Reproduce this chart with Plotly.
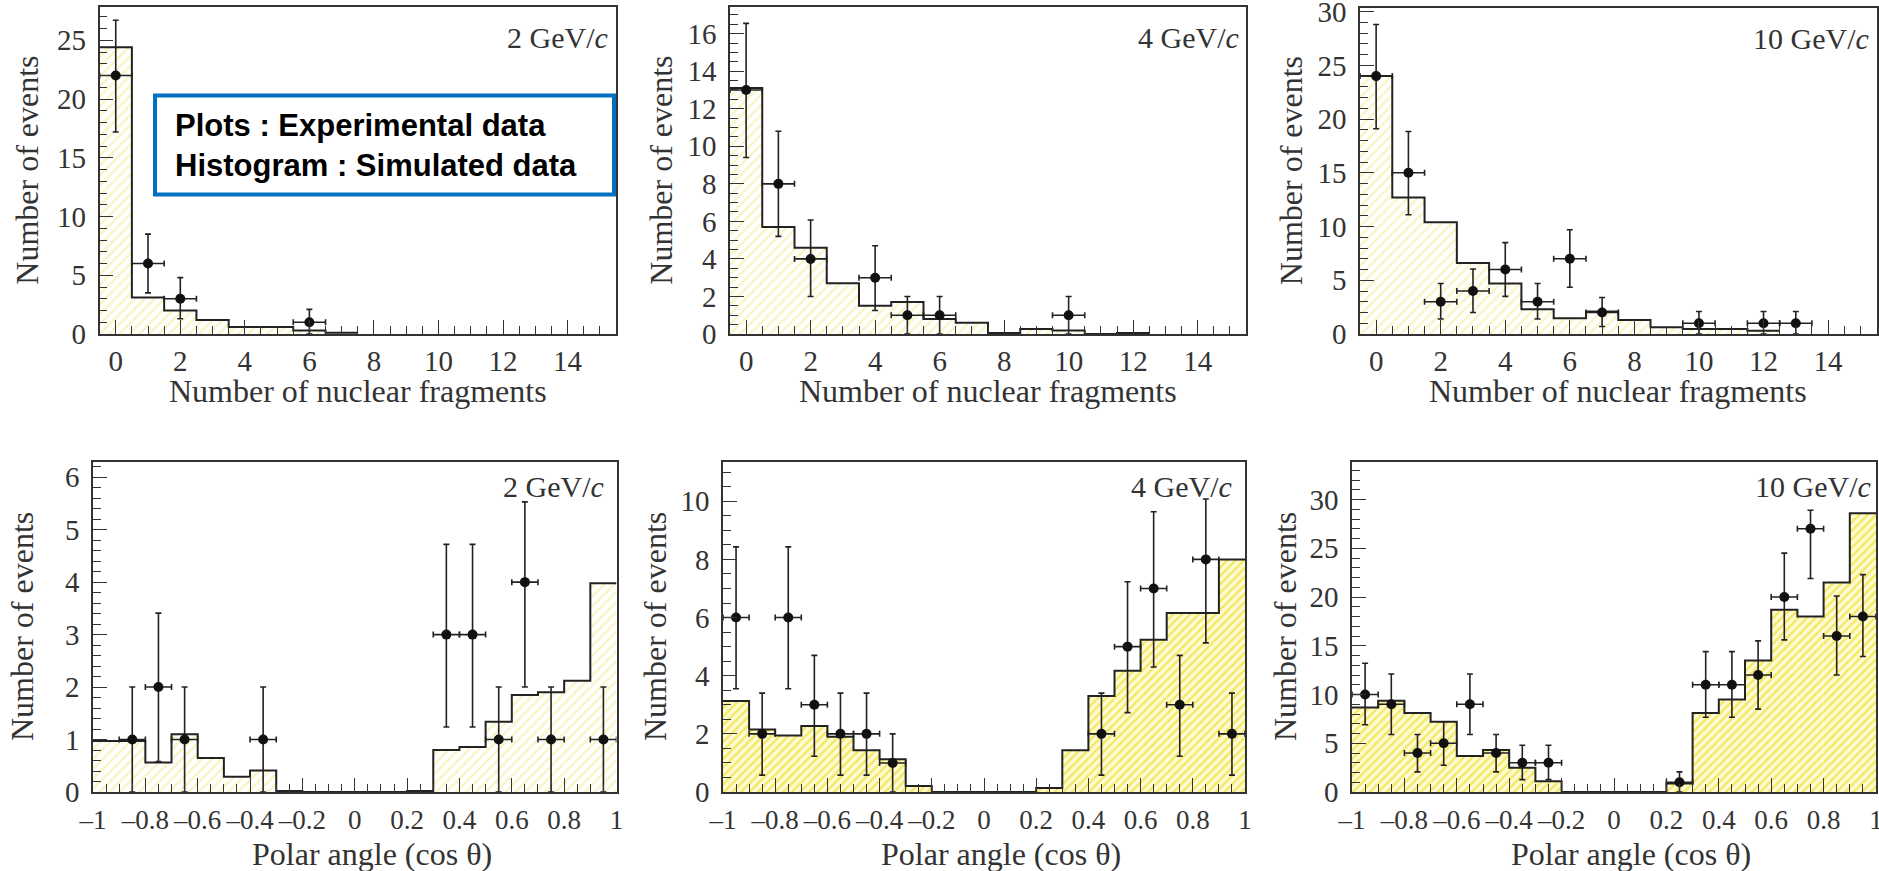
import plotly.graph_objects as go

# ---------------- data ----------------
frag_centers = [0, 1, 2, 3, 4, 5, 6, 7, 8, 9, 10, 11, 12]
ang_centers = [-0.95, -0.85, -0.75, -0.65, -0.55, -0.45, -0.35, -0.25, -0.15, -0.05,
               0.05, 0.15, 0.25, 0.35, 0.45, 0.55, 0.65, 0.75, 0.85, 0.95]
frag_bin_width = 1.0
ang_bin_width = 0.1

# simulated histograms (number of nuclear fragments)
sim_frag_2 = [24.4, 3.1, 2.0, 1.2, 0.6, 0.6, 0.3, 0.1]
sim_frag_4 = [13.1, 5.7, 4.6, 2.7, 1.5, 1.7, 0.8, 0.6, 0.05, 0.27, 0.18, 0.0, 0.05]
sim_frag_10 = [24.0, 12.7, 10.4, 6.6, 4.7, 2.3, 1.46, 2.1, 1.3, 0.62, 0.47, 0.47, 0.3]

# experimental points (number of nuclear fragments)
exp_frag_2_x = [0, 1, 2, 6]
exp_frag_2_y = [22, 6, 3, 1]
exp_frag_2_up = [4.7, 2.5, 1.8, 1.1]
exp_frag_2_dn = [4.8, 2.5, 1.7, 1.0]

exp_frag_4_x = [0, 1, 2, 4, 5, 6, 10]
exp_frag_4_y = [13, 8, 4, 3, 1, 1, 1]
exp_frag_4_up = [3.55, 2.8, 2.07, 1.7, 1.0, 1.0, 1.0]
exp_frag_4_dn = [3.6, 2.8, 2.0, 1.75, 1.0, 1.0, 1.0]

exp_frag_10_x = [0, 1, 2, 3, 4, 5, 6, 7, 10, 12, 13]
exp_frag_10_y = [24, 15, 3, 4, 6, 3, 7, 2, 1, 1, 1]
exp_frag_10_up = [4.8, 3.85, 1.7, 2.05, 2.5, 1.7, 2.7, 1.4, 1.1, 1.1, 1.1]
exp_frag_10_dn = [4.9, 3.9, 1.6, 2.0, 2.5, 1.6, 2.65, 1.3, 1.0, 1.0, 1.0]

# simulated histograms (polar angle)
sim_ang_2 = [0.97, 0.97, 0.56, 1.1, 0.65, 0.29, 0.41, 0.02, 0, 0, 0, 0, 0.02,
             0.8, 0.86, 1.34, 1.85, 1.9, 2.12, 3.98]
sim_ang_4 = [3.13, 2.15, 1.94, 2.27, 1.9, 1.44, 1.13, 0.21, 0, 0, 0, 0, 0.14,
             1.44, 3.3, 4.17, 5.24, 6.16, 6.16, 8.0]
sim_ang_10 = [8.66, 9.35, 8.1, 7.2, 3.7, 4.3, 2.5, 1.1, 0, 0, 0, 0, 0.86,
              8.1, 9.5, 13.5, 18.7, 18.0, 21.5, 28.6]

# experimental points (polar angle)
exp_ang_2_x = [-0.85, -0.75, -0.65, -0.35, 0.35, 0.45, 0.55, 0.65, 0.75, 0.95]
exp_ang_2_y = [1, 2, 1, 1, 3, 3, 1, 4, 1, 1]
exp_ang_2_up = [1, 1.41, 1, 1, 1.72, 1.72, 1, 1.53, 1, 1]
exp_ang_2_dn = [1, 1.42, 1, 1, 1.76, 1.76, 1, 2.0, 1, 1]

exp_ang_4_x = [-0.95, -0.85, -0.75, -0.65, -0.55, -0.45, -0.35, 0.45, 0.55, 0.65, 0.75, 0.85, 0.95]
exp_ang_4_y = [6, 2, 6, 3, 2, 2, 1, 2, 5, 7, 3, 8, 2]
exp_ang_4_up = [2.43, 1.4, 2.43, 1.7, 1.4, 1.4, 1.0, 1.4, 2.23, 2.64, 1.7, 2.08, 1.4]
exp_ang_4_dn = [2.45, 1.42, 2.45, 1.77, 1.42, 1.42, 1.0, 1.42, 2.27, 2.7, 1.77, 2.87, 1.42]

exp_ang_10_x = [-0.95, -0.85, -0.75, -0.65, -0.55, -0.45, -0.35, -0.25,
                0.25, 0.35, 0.45, 0.55, 0.65, 0.75, 0.85, 0.95]
exp_ang_10_y = [10, 9, 4, 5, 9, 4, 3, 3, 1, 11, 11, 12, 20, 27, 16, 18]
exp_ang_10_up = [3.2, 3.1, 1.9, 2.2, 3.1, 1.9, 1.8, 1.8, 1.06, 3.4, 3.4, 3.5, 4.5, 1.9, 4.1, 4.3]
exp_ang_10_dn = [3.1, 3.1, 1.94, 2.25, 3.1, 1.94, 1.73, 1.73, 1.0, 3.34, 3.34, 3.5, 4.4, 5.1, 4.0, 4.1]

ang_tick_vals = [-1, -0.8, -0.6, -0.4, -0.2, 0, 0.2, 0.4, 0.6, 0.8, 1]
ang_tick_text = ["\u20131", "\u20130.8", "\u20130.6", "\u20130.4", "\u20130.2", "0",
                 "0.2", "0.4", "0.6", "0.8", "1"]
momentum_labels = ["2 GeV/<i>c</i>", "4 GeV/<i>c</i>", "10 GeV/<i>c</i>"]
x_title_frag = "Number of nuclear fragments"
x_title_ang = "Polar angle (cos \u03b8)"
y_title = "Number of events"
note_lines = ["Plots : Experimental data", "Histogram : Simulated data"]

# ---------------- styles ----------------
W, H = 1879, 871
SERIF = "Liberation Serif"
TXT = "#333333"
AX = "#333333"
TICK_SIZE = 29
ANG_TICK_SIZE = 27
TITLE_SIZE = 32

light_pattern = dict(shape="/", fgcolor="#f3ea8c", bgcolor="#ffffff", size=7, solidity=0.35)
dense_pattern = dict(shape="/", fgcolor="#e6d400", bgcolor="#fffbd0", size=6, solidity=0.4)

panels = [
    dict(c=frag_centers, w=frag_bin_width, sim=sim_frag_2, ex=exp_frag_2_x, ey=exp_frag_2_y,
         up=exp_frag_2_up, dn=exp_frag_2_dn, yr=[0, 27.8], xd=[99.6, 616], yd=[7.4, 334],
         lab=momentum_labels[0], pat=light_pattern, kind="frag", ydt=5, ymin=1,
         labpos=(-6, -30), ytx=27),
    dict(c=frag_centers, w=frag_bin_width, sim=sim_frag_4, ex=exp_frag_4_x, ey=exp_frag_4_y,
         up=exp_frag_4_up, dn=exp_frag_4_dn, yr=[0, 17.4], xd=[730, 1246], yd=[7.4, 334],
         lab=momentum_labels[1], pat=light_pattern, kind="frag", ydt=2, ymin=0.5,
         labpos=(-5, -30), ytx=661),
    dict(c=frag_centers, w=frag_bin_width, sim=sim_frag_10, ex=exp_frag_10_x, ey=exp_frag_10_y,
         up=exp_frag_10_up, dn=exp_frag_10_dn, yr=[0, 30.3], xd=[1360, 1876.5], yd=[8.4, 334],
         lab=momentum_labels[2], pat=light_pattern, kind="frag", ydt=5, ymin=1,
         labpos=(-6, -30), ytx=1291),
    dict(c=ang_centers, w=ang_bin_width, sim=sim_ang_2, ex=exp_ang_2_x, ey=exp_ang_2_y,
         up=exp_ang_2_up, dn=exp_ang_2_dn, yr=[0, 6.29], xd=[93, 616.5], yd=[462, 792],
         lab=momentum_labels[0], pat=light_pattern, kind="ang", ydt=1, ymin=0.2,
         labpos=(-10, -24), ytx=22),
    dict(c=ang_centers, w=ang_bin_width, sim=sim_ang_4, ex=exp_ang_4_x, ey=exp_ang_4_y,
         up=exp_ang_4_up, dn=exp_ang_4_dn, yr=[0, 11.35], xd=[723, 1245], yd=[462, 792],
         lab=momentum_labels[1], pat=dense_pattern, kind="ang", ydt=2, ymin=0.5,
         labpos=(-11, -24), ytx=655),
    dict(c=ang_centers, w=ang_bin_width, sim=sim_ang_10, ex=exp_ang_10_x, ey=exp_ang_10_y,
         up=exp_ang_10_up, dn=exp_ang_10_dn, yr=[0, 33.85], xd=[1352, 1876], yd=[462, 792],
         lab=momentum_labels[2], pat=dense_pattern, kind="ang", ydt=5, ymin=1,
         labpos=(-3, -24), ytx=1285),
]

fig = go.Figure()
layout = dict(
    width=W, height=H,
    margin=dict(l=0, r=0, t=0, b=0, pad=0, autoexpand=False),
    paper_bgcolor="white", plot_bgcolor="white",
    showlegend=False,
    font=dict(family=SERIF, color=TXT, size=TICK_SIZE),
    annotations=[], shapes=[],
)

for i, p in enumerate(panels):
    n = i + 1
    xa = "x" if n == 1 else f"x{n}"
    ya = "y" if n == 1 else f"y{n}"
    c = p["c"][:len(p["sim"])]
    w = p["w"]
    # hatched fill
    fig.add_trace(go.Bar(
        x=c, y=p["sim"], width=w, xaxis=xa, yaxis=ya,
        marker=dict(color=p["pat"]["bgcolor"], line=dict(width=0), pattern=p["pat"]),
        hoverinfo="skip",
    ))
    # step outline
    edges = [v - w / 2 for v in c] + [c[-1] + w / 2]
    steps = list(p["sim"]) + [p["sim"][-1]]
    fig.add_trace(go.Scatter(
        x=edges, y=steps, mode="lines", line=dict(shape="hv", color="#222222", width=2),
        xaxis=xa, yaxis=ya, hoverinfo="skip",
    ))
    # experimental points
    fig.add_trace(go.Scatter(
        x=p["ex"], y=p["ey"], mode="markers", xaxis=xa, yaxis=ya,
        marker=dict(color="#111111", size=10),
        error_x=dict(type="constant", value=w / 2, color="#222222", thickness=1.6, width=3),
        error_y=dict(type="data", symmetric=False, array=p["up"], arrayminus=p["dn"],
                     color="#222222", thickness=1.6, width=3),
        cliponaxis=False,
    ))

    xdom = [p["xd"][0] / W, p["xd"][1] / W]
    ydom = [1 - p["yd"][1] / H, 1 - p["yd"][0] / H]
    common = dict(showline=True, mirror=True, linecolor=AX, linewidth=1.6,
                  ticks="inside", tickcolor=AX, tickwidth=1.4, ticklen=14,
                  showgrid=False, zeroline=False, layer="above traces", automargin=False,
                  ticklabeloverflow="allow")
    if p["kind"] == "frag":
        xaxis = dict(common, range=[-0.5, 15.5], tickmode="linear", tick0=0, dtick=2,
                     ticklabelstandoff=0, tickangle=0,
                     tickfont=dict(family=SERIF, size=TICK_SIZE, color=TXT),
                     minor=dict(ticks="inside", dtick=0.5, tick0=0, ticklen=8, tickcolor=AX, tickwidth=1.2))
        xtitle = x_title_frag
        xt_y = 1 - 391 / H
        xt_anchor = "middle"
        xt_x = (p["xd"][0] + p["xd"][1]) / 2
    else:
        xaxis = dict(common, range=[-1, 1], tickmode="array",
                     tickvals=ang_tick_vals, ticktext=ang_tick_text,
                     ticklabelstandoff=3, tickangle=0,
                     tickfont=dict(family=SERIF, size=ANG_TICK_SIZE, color=TXT),
                     minor=dict(ticks="inside", dtick=0.05, tick0=0, ticklen=8, tickcolor=AX, tickwidth=1.2))
        xtitle = x_title_ang
        xt_y = 0
        xt_anchor = "bottom"
        xt_x = (p["xd"][0] + p["xd"][1]) / 2 + 17
    xaxis.update(domain=xdom, anchor=ya)
    yaxis = dict(common, range=p["yr"], domain=ydom, anchor=xa,
                 tickmode="linear", tick0=0, dtick=p["ydt"], ticklabelstandoff=6,
                 tickfont=dict(family=SERIF, size=TICK_SIZE, color=TXT),
                 minor=dict(ticks="inside", dtick=p["ymin"], tick0=0, ticklen=8, tickcolor=AX, tickwidth=1.2))
    layout["xaxis" if n == 1 else f"xaxis{n}"] = xaxis
    layout["yaxis" if n == 1 else f"yaxis{n}"] = yaxis

    # momentum label
    layout["annotations"].append(dict(
        text=p["lab"], xref=f"{xa} domain", yref=f"{ya} domain", x=1, y=1,
        xanchor="right", yanchor="middle", xshift=p["labpos"][0], yshift=p["labpos"][1],
        showarrow=False, font=dict(family=SERIF, size=30, color=TXT),
    ))
    # axis titles
    layout["annotations"].append(dict(
        text=xtitle, xref="paper", yref="paper", x=xt_x / W, y=xt_y,
        xanchor="center", yanchor=xt_anchor, yshift=(-3 if xt_anchor == "bottom" else 0),
        showarrow=False, font=dict(family=SERIF, size=TITLE_SIZE, color=TXT),
    ))
    layout["annotations"].append(dict(
        text=y_title, xref="paper", yref="paper", x=p["ytx"] / W,
        y=1 - (p["yd"][0] + p["yd"][1]) / 2 / H, textangle=-90,
        xanchor="center", yanchor="middle", showarrow=False,
        font=dict(family=SERIF, size=TITLE_SIZE, color=TXT),
    ))

# note box
layout["shapes"].append(dict(
    type="rect", xref="paper", yref="paper",
    x0=155 / W, x1=614 / W, y0=1 - 194.6 / H, y1=1 - 95.6 / H,
    line=dict(color="#0070C0", width=4), fillcolor="white", layer="above",
))
layout["annotations"].append(dict(
    text="<br>".join(note_lines), xref="paper", yref="paper",
    x=173 / W, y=1 - 146 / H, xanchor="left", yanchor="middle", align="left",
    showarrow=False, font=dict(family="Liberation Sans", size=31, color="#000000", weight="bold"),
))

fig.update_layout(**layout)
fig.write_html("out.html")
